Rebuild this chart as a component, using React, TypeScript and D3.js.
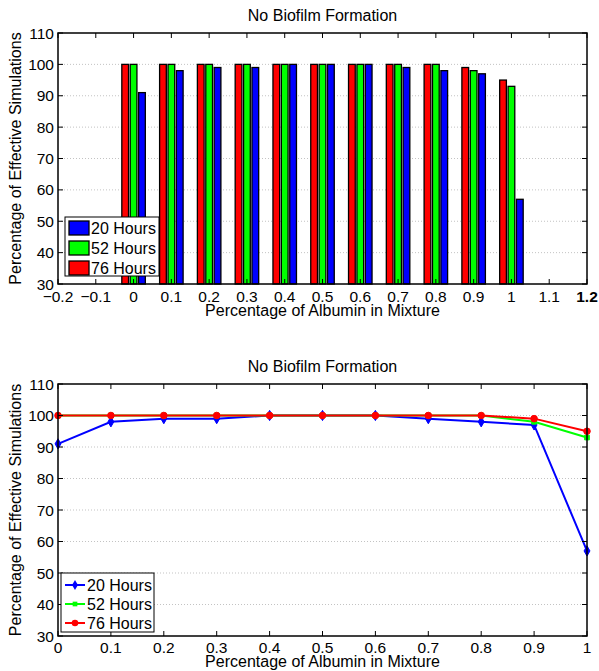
import { useEffect, useRef } from "react";
import * as d3 from "d3";

// albumin fraction and % effective simulations for each incubation time
const albumin = [0, 0.1, 0.2, 0.3, 0.4, 0.5, 0.6, 0.7, 0.8, 0.9, 1];
const hours20 = [91, 98, 99, 99, 100, 100, 100, 99, 98, 97, 57];
const hours52 = [100, 100, 100, 100, 100, 100, 100, 100, 100, 98, 93];
const hours76 = [100, 100, 100, 100, 100, 100, 100, 100, 100, 99, 95];

const seriesNames = ["20 Hours", "52 Hours", "76 Hours"];
const seriesColors = ["#0000ff", "#00ff00", "#ff0000"];

const yTicks = [30, 40, 50, 60, 70, 80, 90, 100, 110];
const barXTicks = [-0.2, -0.1, 0, 0.1, 0.2, 0.3, 0.4, 0.5, 0.6, 0.7, 0.8, 0.9, 1, 1.1, 1.2];
const lineXTicks = [0, 0.1, 0.2, 0.3, 0.4, 0.5, 0.6, 0.7, 0.8, 0.9, 1];

const chartTitle = "No Biofilm Formation";
const xTitle = "Percentage of Albumin in Mixture";
const yTitle = "Percentage of Effective Simulations";

const W = 599;
const H = 671;
const FONT = "'Liberation Sans', Arial, sans-serif";

const fmt = (d: number) => String(d).replace("-", "\u2212");

type Box = { left: number; right: number; top: number; bottom: number };

// gridlines first, then frame/ticks/labels once the marks are drawn
function drawFrame(svg: any, box: Box, x: any, y: any, xTicks: number[], tickBase: number, titleBase: number, xLabelBase: number) {
  const g = svg.append("g");

  g.selectAll(".grid")
    .data(yTicks.filter((t) => t > 30 && t < 110))
    .enter()
    .append("line")
    .attr("x1", box.left)
    .attr("x2", box.right)
    .attr("y1", (d: number) => y(d))
    .attr("y2", (d: number) => y(d))
    .attr("stroke", "#b4b4b4")
    .attr("stroke-width", 0.8)
    .attr("stroke-dasharray", "1,2");

  return () => {
    const f = svg.append("g");
    f.append("rect")
      .attr("x", box.left)
      .attr("y", box.top)
      .attr("width", box.right - box.left)
      .attr("height", box.bottom - box.top)
      .attr("fill", "none")
      .attr("stroke", "#000")
      .attr("stroke-width", 1.5);

    xTicks.forEach((t) => {
      f.append("line").attr("x1", x(t)).attr("x2", x(t)).attr("y1", box.bottom).attr("y2", box.bottom - 5).attr("stroke", "#000");
      f.append("line").attr("x1", x(t)).attr("x2", x(t)).attr("y1", box.top).attr("y2", box.top + 5).attr("stroke", "#000");
      f.append("text")
        .attr("x", x(t))
        .attr("y", tickBase)
        .attr("text-anchor", "middle")
        .attr("font-size", 15.5)
        .attr("font-weight", t === 1.2 ? "bold" : "normal")
        .text(fmt(t));
    });

    yTicks.forEach((t) => {
      f.append("line").attr("x1", box.left).attr("x2", box.left + 5).attr("y1", y(t)).attr("y2", y(t)).attr("stroke", "#000");
      f.append("line").attr("x1", box.right).attr("x2", box.right - 5).attr("y1", y(t)).attr("y2", y(t)).attr("stroke", "#000");
      f.append("text")
        .attr("x", box.left - 4)
        .attr("y", y(t))
        .attr("dy", "0.36em")
        .attr("text-anchor", "end")
        .attr("font-size", 15.5)
        .text(fmt(t));
    });

    f.append("text")
      .attr("x", (box.left + box.right) / 2)
      .attr("y", titleBase)
      .attr("text-anchor", "middle")
      .attr("font-size", 16)
      .text(chartTitle);

    f.append("text")
      .attr("x", (box.left + box.right) / 2)
      .attr("y", xLabelBase)
      .attr("text-anchor", "middle")
      .attr("font-size", 16)
      .text(xTitle);

    f.append("text")
      .attr("transform", `translate(21,${(box.top + box.bottom) / 2}) rotate(-90)`)
      .attr("text-anchor", "middle")
      .attr("font-size", 16)
      .text(yTitle);
  };
}

const App = () => {
  const svgRef = useRef<SVGSVGElement>(null);

  useEffect(() => {
    const svg = d3.select(svgRef.current);
    svg.selectAll("*").remove();

    // ---------- Top panel: grouped bars ----------
    const top: Box = { left: 58, right: 587, top: 33, bottom: 284 };
    const x1 = d3.scaleLinear().domain([-0.2, 1.2]).range([top.left, top.right]);
    const y1 = d3.scaleLinear().domain([30, 110]).range([top.bottom, top.top]);
    const finish1 = drawFrame(svg, top, x1, y1, barXTicks, 302, 21, 316);

    // MATLAB-style grouping: 76h left, 52h middle, 20h right
    const barSeries = [hours76, hours52, hours20];
    const barColors = [seriesColors[2], seriesColors[1], seriesColors[0]];
    const step = (0.1 * (2 / 3)) / 3;
    const bw = step * 0.8;

    barSeries.forEach((vals, si) => {
      svg.append("g")
        .selectAll("rect")
        .data(albumin.map((a, i) => ({ a, v: vals[i] })))
        .enter()
        .append("rect")
        .attr("x", (d) => x1(d.a + (si - 1) * step - bw / 2))
        .attr("width", x1(bw) - x1(0))
        .attr("y", (d) => y1(d.v))
        .attr("height", (d) => y1(30) - y1(d.v))
        .attr("fill", barColors[si])
        .attr("stroke", "#000")
        .attr("stroke-width", 1.3);
    });

    finish1();

    // legend with patches
    const lg1 = svg.append("g").attr("transform", "translate(65,217)");
    lg1.append("rect").attr("width", 94).attr("height", 59).attr("fill", "#fff").attr("stroke", "#000");
    seriesNames.forEach((name, i) => {
      const cy = 11 + i * 20;
      lg1.append("rect")
        .attr("x", 4)
        .attr("y", cy - 7)
        .attr("width", 20)
        .attr("height", 14)
        .attr("fill", seriesColors[i])
        .attr("stroke", "#000")
        .attr("stroke-width", 1.3);
      lg1.append("text").attr("x", 26).attr("y", cy).attr("dy", "0.36em").attr("font-size", 16).text(name);
    });

    // ---------- Bottom panel: lines ----------
    const bot: Box = { left: 58, right: 587, top: 384, bottom: 636 };
    const x2 = d3.scaleLinear().domain([0, 1]).range([bot.left, bot.right]);
    const y2 = d3.scaleLinear().domain([30, 110]).range([bot.bottom, bot.top]);
    const finish2 = drawFrame(svg, bot, x2, y2, lineXTicks, 653, 372, 667);

    const lineSeries = [hours20, hours52, hours76];
    const symbols = [d3.symbolDiamond, d3.symbolSquare, d3.symbolCircle];
    const symSizes = [30, 22, 34];
    const line = d3
      .line<{ a: number; v: number }>()
      .x((d) => x2(d.a))
      .y((d) => y2(d.v));

    lineSeries.forEach((vals, si) => {
      const pts = albumin.map((a, i) => ({ a, v: vals[i] }));
      const g = svg.append("g");
      g.append("path")
        .datum(pts)
        .attr("d", line)
        .attr("fill", "none")
        .attr("stroke", seriesColors[si])
        .attr("stroke-width", 2);
      g.selectAll("path.m")
        .data(pts)
        .enter()
        .append("path")
        .attr("class", "m")
        .attr("transform", (d) => `translate(${x2(d.a)},${y2(d.v)})`)
        .attr("d", d3.symbol().type(symbols[si]).size(symSizes[si])())
        .attr("fill", seriesColors[si])
        .attr("stroke", seriesColors[si])
        .attr("stroke-width", 1);
    });

    finish2();

    const lg2 = svg.append("g").attr("transform", "translate(61,573)");
    lg2.append("rect").attr("width", 93).attr("height", 59).attr("fill", "#fff").attr("stroke", "#000");
    seriesNames.forEach((name, i) => {
      const cy = 12 + i * 19;
      lg2.append("line")
        .attr("x1", 4)
        .attr("x2", 24)
        .attr("y1", cy)
        .attr("y2", cy)
        .attr("stroke", seriesColors[i])
        .attr("stroke-width", 2);
      lg2.append("path")
        .attr("transform", `translate(14,${cy})`)
        .attr("d", d3.symbol().type(symbols[i]).size(symSizes[i])())
        .attr("fill", seriesColors[i]);
      lg2.append("text").attr("x", 26).attr("y", cy).attr("dy", "0.36em").attr("font-size", 16).text(name);
    });
  }, []);

  return (
    <div style={{ position: "absolute", left: 0, top: 0, background: "#fff" }}>
      <svg ref={svgRef} width={W} height={H} style={{ display: "block", fontFamily: FONT }} />
    </div>
  );
};

export default App;
